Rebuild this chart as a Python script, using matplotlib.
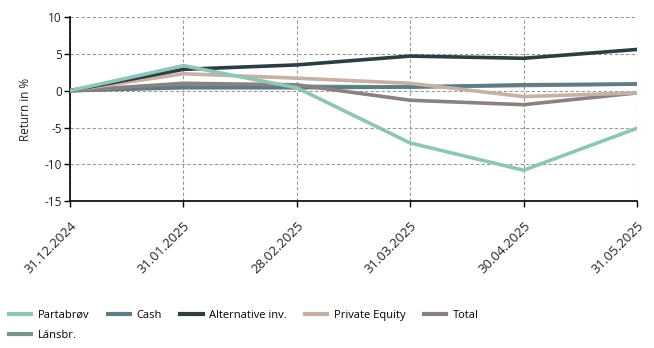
import matplotlib
matplotlib.use("Agg")
import matplotlib.pyplot as plt
import matplotlib.transforms as mtransforms
from matplotlib.lines import Line2D

plt.rcParams['font.family'] = ['Open Sans', 'DejaVu Sans']

dates = ["31.12.2024", "31.01.2025", "28.02.2025", "31.03.2025", "30.04.2025", "31.05.2025"]

partabrov = [0.0, 3.4, 0.4, -7.1, -10.8, -5.1]
cash = [0.0, 0.4, 0.4, 0.5, 0.8, 0.9]
alternative = [0.0, 2.9, 3.5, 4.7, 4.4, 5.6]
private_equity = [0.0, 2.3, 1.7, 1.0, -0.8, -0.3]
total = [0.0, 1.0, 0.8, -1.3, -1.9, -0.3]
lansbr = [0.0, 0.6, 0.6, 0.5, 0.7, 0.9]

series = [
    ("Partabrøv", partabrov, "#8dc6b6"),
    ("Cash", cash, "#5e7c83"),
    ("Alternative inv.", alternative, "#2e3d41"),
    ("Private Equity", private_equity, "#c5b1a6"),
    ("Total", total, "#8b8181"),
    ("Lánsbr.", lansbr, "#79948a"),
]

yticks = [-15, -10, -5, 0, 5, 10]

fig = plt.figure(figsize=(6.54, 3.48), dpi=100)
ax = fig.add_axes([0.107, 0.422, 0.867, 0.529])

x = list(range(len(dates)))
draw_order = ["Lánsbr.", "Cash", "Total", "Private Equity", "Alternative inv.", "Partabrøv"]
lookup = {name: (vals, col) for name, vals, col in series}
for name in draw_order:
    vals, col = lookup[name]
    ax.plot(x, vals, color=col, lw=2.6, solid_capstyle='round', solid_joinstyle='round', zorder=3)

ax.set_xlim(0, len(dates) - 1)
ax.set_ylim(-15, 10)
ax.set_xticks(x)
ax.set_xticklabels(dates, rotation=45, ha='right', rotation_mode='anchor', fontsize=9.5, color='#222222')
shift = mtransforms.ScaledTranslation(6 / 100, 0, fig.dpi_scale_trans)
for lbl in ax.get_xticklabels():
    lbl.set_transform(lbl.get_transform() + shift)
ax.set_yticks(yticks)
ax.set_yticklabels([str(v) for v in yticks], fontsize=8.5, color='#222222')
ax.set_ylabel("Return in %", fontsize=8.5, color='#222222', labelpad=9)

ax.grid(True, color='#999999', linestyle=(0, (3, 2)), linewidth=0.8, zorder=0)
ax.spines['top'].set_visible(False)
ax.spines['right'].set_visible(False)
ax.spines['left'].set_color('black')
ax.spines['bottom'].set_color('black')
ax.spines['left'].set_linewidth(1.2)
ax.spines['bottom'].set_linewidth(1.2)
ax.tick_params(axis='y', length=4, width=1, color='black', pad=2)
ax.tick_params(axis='x', length=4, width=1, color='black', pad=9)

# legend entries arranged so rows read left to right
legend_order = ["Partabrøv", "Lánsbr.", "Cash", "Alternative inv.", "Private Equity", "Total"]
handles = [Line2D([0], [0], color=lookup[n][1], lw=3) for n in legend_order]
fig.legend(handles, legend_order, loc='upper left', bbox_to_anchor=(0.007, 0.122), ncol=5,
           frameon=False, fontsize=8, handlelength=2.0, columnspacing=1.65,
           handletextpad=0.6, labelspacing=0.8, borderaxespad=0.0)

fig.savefig("out.png", dpi=100)
